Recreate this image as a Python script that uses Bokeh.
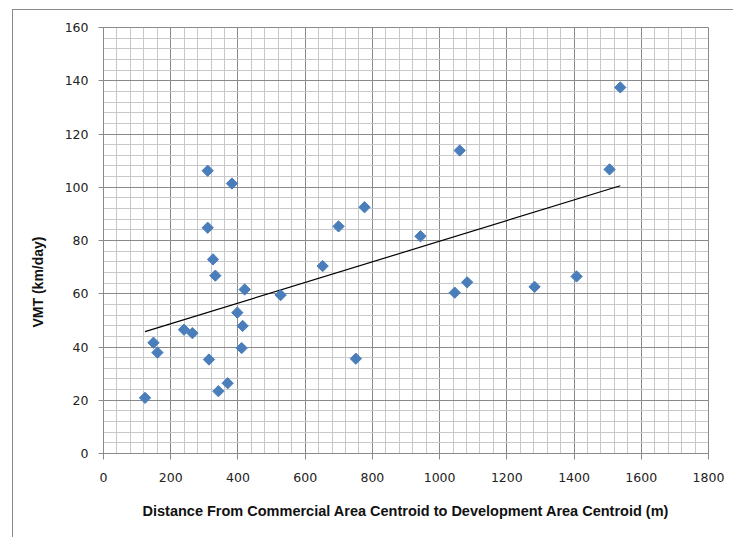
import numpy as np
from bokeh.plotting import figure
from bokeh.models import Range1d, SingleIntervalTicker, Title
from bokeh.embed import file_html
from bokeh.resources import INLINE

# Data
distance_m = [123.6, 148.6, 160.5, 239.5, 264.5, 313.8, 341.7, 369.4, 398.2, 414.0,
              411.0, 310.0, 382.2, 310.0, 325.8, 332.8, 420.0, 527.0, 652.0, 699.3,
              750.7, 776.6, 943.0, 1045.0, 1059.8, 1082.0, 1282.6, 1407.5, 1505.6, 1537.5]
vmt_km_day = [20.9, 41.6, 37.9, 46.5, 45.2, 35.3, 23.4, 26.4, 52.9, 47.9,
              39.6, 106.2, 101.4, 84.8, 72.9, 66.8, 61.6, 59.5, 70.4, 85.3,
              35.6, 92.5, 81.6, 60.4, 113.8, 64.3, 62.6, 66.5, 106.7, 137.5]

x_title = "Distance From Commercial Area Centroid to Development Area Centroid (m)"
y_title = "VMT (km/day)"

# Linear trendline (least squares), spanning the data range
slope, intercept = np.polyfit(distance_m, vmt_km_day, 1)
trend_x = [min(distance_m), max(distance_m)]
trend_y = [slope * v + intercept for v in trend_x]

p = figure(width=733, height=537, output_backend="svg", toolbar_location=None,
           x_range=Range1d(0, 1800), y_range=Range1d(0, 160),
           min_border_left=103, min_border_right=25, min_border_top=27, min_border_bottom=84)
p.background_fill_color = "white"
p.border_fill_color = None
p.outline_line_color = "#8a8a8a"
p.styles = {
    "background-color": "white",
    "background-image": "linear-gradient(#8a8a8a, #8a8a8a), linear-gradient(#8a8a8a, #8a8a8a)",
    "background-size": "1px 100%, 100% 1px",
    "background-position": "12px 9px, 12px 9px",
    "background-repeat": "no-repeat",
}

p.xaxis.ticker = SingleIntervalTicker(interval=200, num_minor_ticks=5)
p.yaxis.ticker = SingleIntervalTicker(interval=20, num_minor_ticks=5)

for ax in (p.xaxis, p.yaxis):
    ax.axis_line_color = "#8a8a8a"
    ax.major_tick_line_color = "#8a8a8a"
    ax.minor_tick_line_color = None
    ax.major_tick_in = 0
    ax.major_label_text_font = "DejaVu Sans"
    ax.major_label_text_font_size = "12.5px"
    ax.major_label_text_color = "#222222"
    ax.axis_label_text_font = "Liberation Sans"
    ax.axis_label_text_font_style = "bold"
    ax.axis_label_text_font_size = "14.5px"
    ax.axis_label_text_color = "#111111"

p.xaxis.major_tick_out = 6
p.yaxis.major_tick_out = 5
p.xaxis.major_label_standoff = 13
p.yaxis.major_label_standoff = 10
p.xaxis.axis_label = x_title
p.xaxis.axis_label_standoff = 18

for g in (p.xgrid, p.ygrid):
    g.grid_line_color = "#8a8a8a"
    g.grid_line_width = 1
    g.minor_grid_line_color = "#c8c8c8"
    g.minor_grid_line_width = 1

p.line(trend_x, trend_y, line_color="black", line_width=1.2)
p.scatter(distance_m, vmt_km_day, marker="square", angle=np.pi / 4, size=8,
          fill_color="#4a7ebb", line_color="#4a7ebb")

p.add_layout(Title(text=y_title, align="left", offset=126, vertical_align="middle",
                   standoff=30, text_font="Liberation Sans", text_font_style="bold",
                   text_font_size="14px", text_color="#111111"), "left")

open("out.html", "w").write(file_html(p, INLINE))
